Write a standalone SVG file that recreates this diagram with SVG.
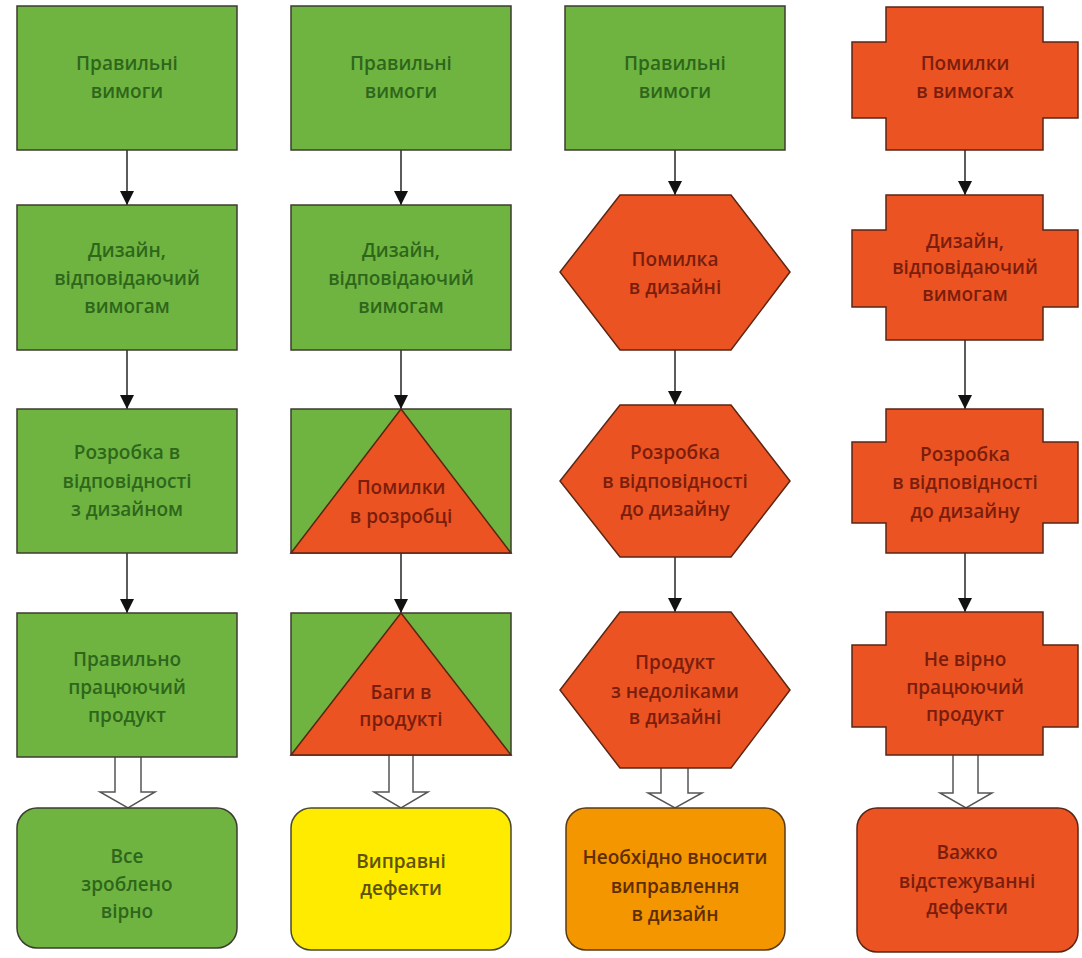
<svg xmlns="http://www.w3.org/2000/svg" width="1082" height="958" viewBox="0 0 1082 958">
<defs>
<style>
.g{fill:#6fb440;stroke:#3c3c30;stroke-width:1.5}
.r{fill:#eb5322;stroke:#5a2614;stroke-width:1.5}
.y{fill:#ffeb00;stroke:#4a4a30;stroke-width:1.5}
.o{fill:#f39600;stroke:#5a3a14;stroke-width:1.5}
.ln{stroke:#333;stroke-width:1.6;fill:none}
.ha{fill:#fff;stroke:#555;stroke-width:1.5;stroke-linejoin:miter}
text{font-family:"Open Sans","Noto Sans","DejaVu Sans",sans-serif;font-size:19px;font-weight:600;text-anchor:middle}
.tg{fill:#2e661c}
.tr{fill:#7a1d0c}
.ty{fill:#5e5300}
.to{fill:#5e2e00}
</style>
<marker id="ah" viewBox="0 0 10 10" refX="10" refY="5" markerWidth="14" markerHeight="14" markerUnits="userSpaceOnUse" orient="auto">
<path d="M0,0 L10,5 L0,10 z" fill="#111"/>
</marker>
</defs>
<rect width="1082" height="958" fill="#fff"/>

<g id="connectors">
<line class="ln" x1="127" y1="150" x2="127" y2="205" marker-end="url(#ah)"/>
<line class="ln" x1="127" y1="350" x2="127" y2="409" marker-end="url(#ah)"/>
<line class="ln" x1="127" y1="553" x2="127" y2="613" marker-end="url(#ah)"/>
<path class="ha" d="M115,757 V792 H100 L128,808 L155,792 H141 V757"/>

<line class="ln" x1="401" y1="150" x2="401" y2="205" marker-end="url(#ah)"/>
<line class="ln" x1="401" y1="350" x2="401" y2="409" marker-end="url(#ah)"/>
<line class="ln" x1="401" y1="553" x2="401" y2="613" marker-end="url(#ah)"/>
<path class="ha" d="M389,755 V792 H374 L401,808 L428,792 H413 V755"/>

<line class="ln" x1="675" y1="150" x2="675" y2="195" marker-end="url(#ah)"/>
<line class="ln" x1="675" y1="350" x2="675" y2="405" marker-end="url(#ah)"/>
<line class="ln" x1="675" y1="557" x2="675" y2="612" marker-end="url(#ah)"/>
<path class="ha" d="M661,768 V793 H648 L675,808 L702,793 H688 V768"/>

<line class="ln" x1="965" y1="150" x2="965" y2="195" marker-end="url(#ah)"/>
<line class="ln" x1="965" y1="340" x2="965" y2="409" marker-end="url(#ah)"/>
<line class="ln" x1="965" y1="553" x2="965" y2="612" marker-end="url(#ah)"/>
<path class="ha" d="M953,755 V793 H940 L966,808 L992,793 H978 V755"/>
</g>

<!-- Column 1 -->
<g id="c1r1"><rect class="g" x="17" y="6" width="220" height="144"/>
<text class="tg"><tspan x="127" y="70">Правильні</tspan><tspan x="127" y="98">вимоги</tspan></text></g>
<g id="c1r2"><rect class="g" x="17" y="205" width="220" height="145"/>
<text class="tg"><tspan x="127" y="257">Дизайн,</tspan><tspan x="127" y="285">відповідаючий</tspan><tspan x="127" y="313">вимогам</tspan></text></g>
<g id="c1r3"><rect class="g" x="17" y="409" width="220" height="144"/>
<text class="tg"><tspan x="127" y="459">Розробка в</tspan><tspan x="127" y="488">відповідності</tspan><tspan x="127" y="516">з дизайном</tspan></text></g>
<g id="c1r4"><rect class="g" x="17" y="613" width="220" height="144"/>
<text class="tg"><tspan x="127" y="666">Правильно</tspan><tspan x="127" y="694">працюючий</tspan><tspan x="127" y="722">продукт</tspan></text></g>
<g id="c1r5"><rect class="g" x="17" y="808" width="220" height="140" rx="20"/>
<text class="tg"><tspan x="127" y="863">Все</tspan><tspan x="127" y="891">зроблено</tspan><tspan x="127" y="918">вірно</tspan></text></g>

<!-- Column 2 -->
<g id="c2r1"><rect class="g" x="291" y="6" width="220" height="144"/>
<text class="tg"><tspan x="401" y="70">Правильні</tspan><tspan x="401" y="98">вимоги</tspan></text></g>
<g id="c2r2"><rect class="g" x="291" y="205" width="220" height="145"/>
<text class="tg"><tspan x="401" y="257">Дизайн,</tspan><tspan x="401" y="285">відповідаючий</tspan><tspan x="401" y="313">вимогам</tspan></text></g>
<g id="c2r3"><rect class="g" x="291" y="409" width="220" height="144"/>
<polygon class="r" points="401,409 511,553 291,553"/>
<text class="tr"><tspan x="401" y="494">Помилки</tspan><tspan x="401" y="523">в розробці</tspan></text></g>
<g id="c2r4"><rect class="g" x="291" y="613" width="220" height="142"/>
<polygon class="r" points="401,613 511,755 291,755"/>
<text class="tr"><tspan x="401" y="699">Баги в</tspan><tspan x="401" y="726">продукті</tspan></text></g>
<g id="c2r5"><rect class="y" x="291" y="808" width="220" height="142" rx="20"/>
<text class="ty"><tspan x="401" y="868">Виправні</tspan><tspan x="401" y="895">дефекти</tspan></text></g>

<!-- Column 3 -->
<g id="c3r1"><rect class="g" x="565" y="6" width="220" height="144"/>
<text class="tg"><tspan x="675" y="70">Правильні</tspan><tspan x="675" y="98">вимоги</tspan></text></g>
<g id="c3r2"><polygon class="r" points="620,195 731,195 790,272 731,350 620,350 560,272"/>
<text class="tr"><tspan x="675" y="266">Помилка</tspan><tspan x="675" y="294">в дизайні</tspan></text></g>
<g id="c3r3"><polygon class="r" points="620,405 731,405 790,481 731,557 620,557 560,481"/>
<text class="tr"><tspan x="675" y="459">Розробка</tspan><tspan x="675" y="488">в відповідності</tspan><tspan x="675" y="516">до дизайну</tspan></text></g>
<g id="c3r4"><polygon class="r" points="620,612 731,612 790,690 731,768 620,768 560,690"/>
<text class="tr"><tspan x="675" y="669">Продукт</tspan><tspan x="675" y="698">з недоліками</tspan><tspan x="675" y="724">в дизайні</tspan></text></g>
<g id="c3r5"><rect class="o" x="566" y="808" width="219" height="142" rx="20"/>
<text class="to"><tspan x="675" y="864">Необхідно вносити</tspan><tspan x="675" y="893">виправлення</tspan><tspan x="675" y="921">в дизайн</tspan></text></g>

<!-- Column 4 -->
<g id="c4r1"><path class="r" d="M886,7 H1043 V42 H1078 V118 H1043 V150 H886 V118 H852 V42 H886 Z"/>
<text class="tr"><tspan x="965" y="70">Помилки</tspan><tspan x="965" y="98">в вимогах</tspan></text></g>
<g id="c4r2"><path class="r" d="M886,195 H1043 V230 H1078 V307 H1043 V340 H886 V307 H852 V230 H886 Z"/>
<text class="tr"><tspan x="965" y="248">Дизайн,</tspan><tspan x="965" y="274">відповідаючий</tspan><tspan x="965" y="301">вимогам</tspan></text></g>
<g id="c4r3"><path class="r" d="M886,409 H1043 V442 H1078 V523 H1043 V553 H886 V523 H852 V442 H886 Z"/>
<text class="tr"><tspan x="965" y="461">Розробка</tspan><tspan x="965" y="489">в відповідності</tspan><tspan x="965" y="518">до дизайну</tspan></text></g>
<g id="c4r4"><path class="r" d="M886,612 H1043 V645 H1078 V727 H1043 V755 H886 V727 H852 V645 H886 Z"/>
<text class="tr"><tspan x="965" y="666">Не вірно</tspan><tspan x="965" y="694">працюючий</tspan><tspan x="965" y="721">продукт</tspan></text></g>
<g id="c4r5"><rect class="r" x="857" y="808" width="221" height="144" rx="20"/>
<text class="tr"><tspan x="967" y="859">Важко</tspan><tspan x="967" y="888">відстежуванні</tspan><tspan x="967" y="914">дефекти</tspan></text></g>
</svg>
